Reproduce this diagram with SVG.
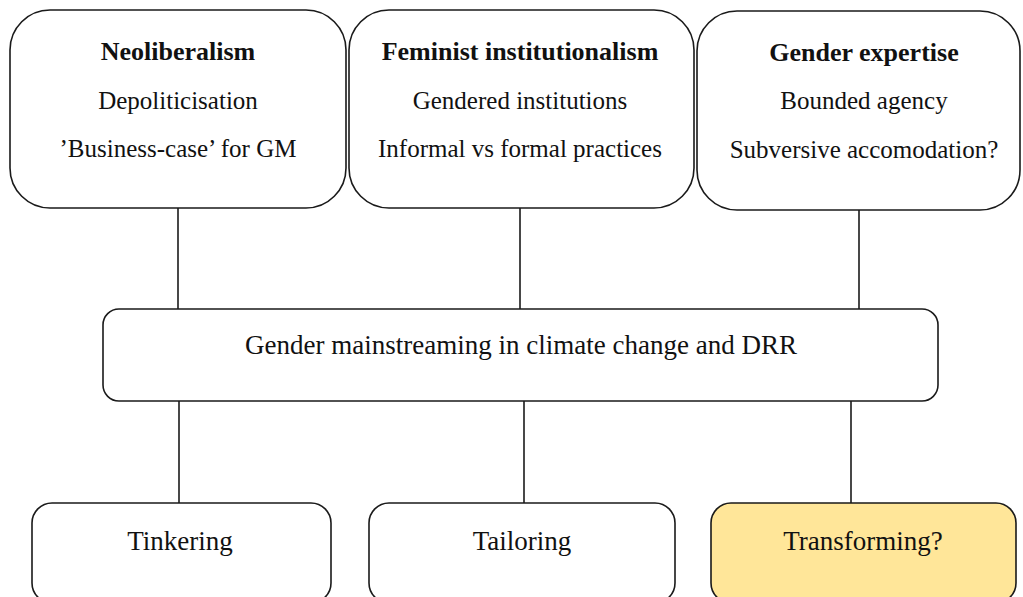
<svg xmlns="http://www.w3.org/2000/svg" width="1023" height="597" viewBox="0 0 1023 597">
<style>
.box{fill:#fff;stroke:#1a1a1a;stroke-width:1.6}
.hl{fill:#FFE699}
.t{font-family:"Liberation Serif","Times New Roman",serif;font-size:25px;fill:#111;text-anchor:middle}
.b{font-weight:bold;font-size:26px}
.m{font-size:27px}
.c{stroke:#1a1a1a;stroke-width:1.6;fill:none}
</style>
<rect width="1023" height="597" fill="#fff"/>
<g id="connectors">
<line class="c" x1="178" y1="208" x2="178" y2="309"/>
<line class="c" x1="520" y1="208" x2="520" y2="309"/>
<line class="c" x1="859" y1="210" x2="859" y2="309"/>
<line class="c" x1="179" y1="401" x2="179" y2="503"/>
<line class="c" x1="524" y1="401" x2="524" y2="503"/>
<line class="c" x1="851" y1="401" x2="851" y2="503"/>
</g>
<g id="neoliberalism">
<rect class="box" x="10" y="10" width="336" height="198" rx="40"/>
<text class="t b" x="178" y="60">Neoliberalism</text>
<text class="t" x="178" y="109">Depoliticisation</text>
<text class="t" x="178" y="157">’Business-case’ for GM</text>
</g>
<g id="feminist">
<rect class="box" x="349" y="10" width="345" height="198" rx="40"/>
<text class="t b" x="520" y="60">Feminist institutionalism</text>
<text class="t" x="520" y="109">Gendered institutions</text>
<text class="t" x="520" y="157">Informal vs formal practices</text>
</g>
<g id="expertise">
<rect class="box" x="697" y="11" width="323" height="199" rx="40"/>
<text class="t b" x="864" y="61">Gender expertise</text>
<text class="t" x="864" y="109">Bounded agency</text>
<text class="t" x="864" y="158">Subversive accomodation?</text>
</g>
<g id="mainstreaming">
<rect class="box" x="103" y="309" width="835" height="92" rx="16"/>
<text class="t m" x="521" y="354">Gender mainstreaming in climate change and DRR</text>
</g>
<g id="tinkering">
<rect class="box" x="32" y="503" width="299" height="100" rx="20"/>
<text class="t m" x="180" y="550">Tinkering</text>
</g>
<g id="tailoring">
<rect class="box" x="369" y="503" width="306" height="100" rx="20"/>
<text class="t m" x="522" y="550">Tailoring</text>
</g>
<g id="transforming">
<rect class="box hl" x="711" y="503" width="305" height="100" rx="20"/>
<text class="t m" x="863" y="550">Transforming?</text>
</g>
</svg>
